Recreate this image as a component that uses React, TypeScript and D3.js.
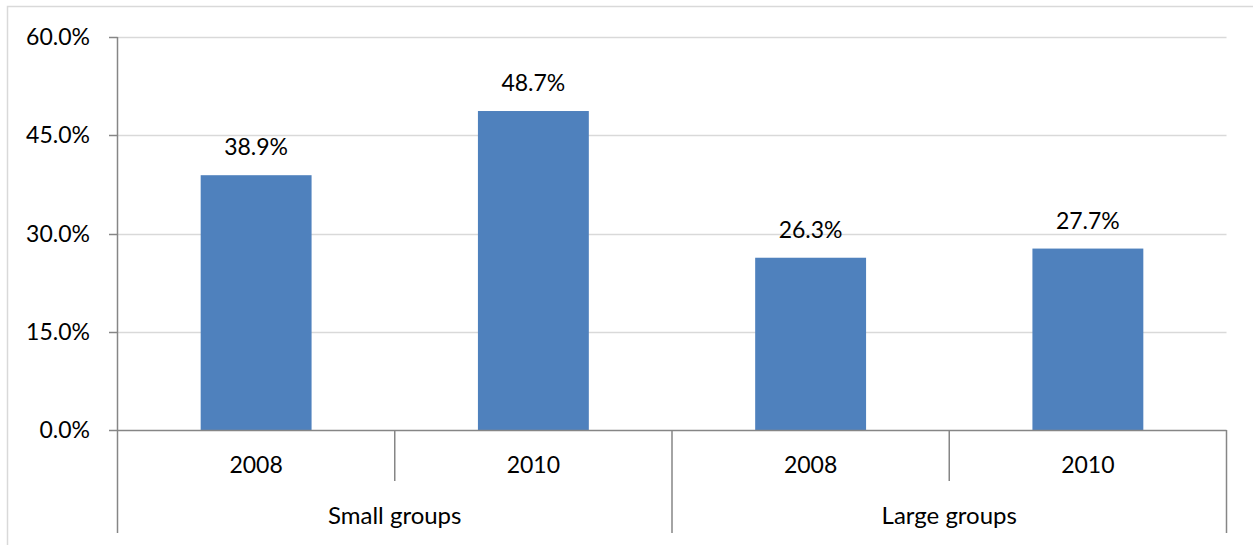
import React from "react";
import * as d3 from "d3";

// Chart data
const groups = ["Small groups", "Large groups"];
const years = ["2008", "2010"];
const values = [38.9, 48.7, 26.3, 27.7]; // percent, ordered group × year
const yTicks = [0, 15, 30, 45, 60];

const W = 1253;
const H = 545;
const FONT = "Lato, 'Open Sans', sans-serif";
const FS = 23;

export default function App() {
  const left = 117.5;
  const right = 1226.5;
  const top = 37;
  const bottom = 430;

  const cats = groups.flatMap((g) => years.map((y) => `${g}|${y}`));
  const x = d3.scaleBand<string>().domain(cats).range([left, right]).paddingInner(0.6).paddingOuter(0.3);
  const xFull = d3.scaleBand<string>().domain(cats).range([left, right]);
  const y = d3.scaleLinear().domain([0, 60]).range([bottom, top]);
  const fmt = (v: number) => `${v.toFixed(1)}%`;

  return (
    <svg width={W} height={H} style={{ position: "absolute", left: 0, top: 0 }}>
      <rect x={0} y={0} width={W} height={H} fill="#fff" />
      {/* outer frame */}
      <path d={`M7.5,${H} V6.5 H${W}`} fill="none" stroke="#d9d9d9" strokeWidth={1.5} />

      {/* gridlines */}
      {yTicks.slice(1).map((t) => (
        <line key={t} x1={left} x2={right} y1={Math.round(y(t)) + 0.5} y2={Math.round(y(t)) + 0.5} stroke="#d9d9d9" strokeWidth={1.5} />
      ))}

      {/* bars */}
      {cats.map((c, i) => (
        <rect key={c} x={x(c)} y={y(values[i])} width={x.bandwidth()} height={bottom - y(values[i])} fill="#4f81bd" />
      ))}

      {/* value labels */}
      {cats.map((c, i) => (
        <text key={c} x={x(c)! + x.bandwidth() / 2} y={y(values[i]) - 20} textAnchor="middle" fontFamily={FONT} fontSize={FS} fill="#000">
          {fmt(values[i])}
        </text>
      ))}

      {/* y axis */}
      <line x1={left} x2={left} y1={top} y2={533} stroke="#868686" strokeWidth={1.5} />
      {yTicks.map((t) => (
        <g key={t}>
          <line x1={109} x2={left} y1={Math.round(y(t)) + 0.5} y2={Math.round(y(t)) + 0.5} stroke="#868686" strokeWidth={1.5} />
          <text x={90} y={y(t) + 8} textAnchor="end" fontFamily={FONT} fontSize={FS} fill="#000">
            {fmt(t)}
          </text>
        </g>
      ))}

      {/* x axis */}
      <line x1={left} x2={right} y1={bottom + 0.5} y2={bottom + 0.5} stroke="#868686" strokeWidth={1.5} />
      {cats.map((c, i) => {
        const x0 = xFull(c)!;
        const yearEnd = i % years.length === years.length - 1;
        return (
          <g key={c}>
            <line x1={x0 + xFull.bandwidth()} x2={x0 + xFull.bandwidth()} y1={bottom} y2={yearEnd ? 533 : 481} stroke="#868686" strokeWidth={1.5} />
            <text x={x0 + xFull.bandwidth() / 2} y={473} textAnchor="middle" fontFamily={FONT} fontSize={FS} fill="#000">
              {years[i % years.length]}
            </text>
          </g>
        );
      })}
      {groups.map((g) => {
        const x0 = xFull(`${g}|${years[0]}`)!;
        const x1 = xFull(`${g}|${years[years.length - 1]}`)! + xFull.bandwidth();
        return (
          <text key={g} x={(x0 + x1) / 2} y={524} textAnchor="middle" fontFamily={FONT} fontSize={FS + 1} fill="#000">
            {g}
          </text>
        );
      })}
    </svg>
  );
}
